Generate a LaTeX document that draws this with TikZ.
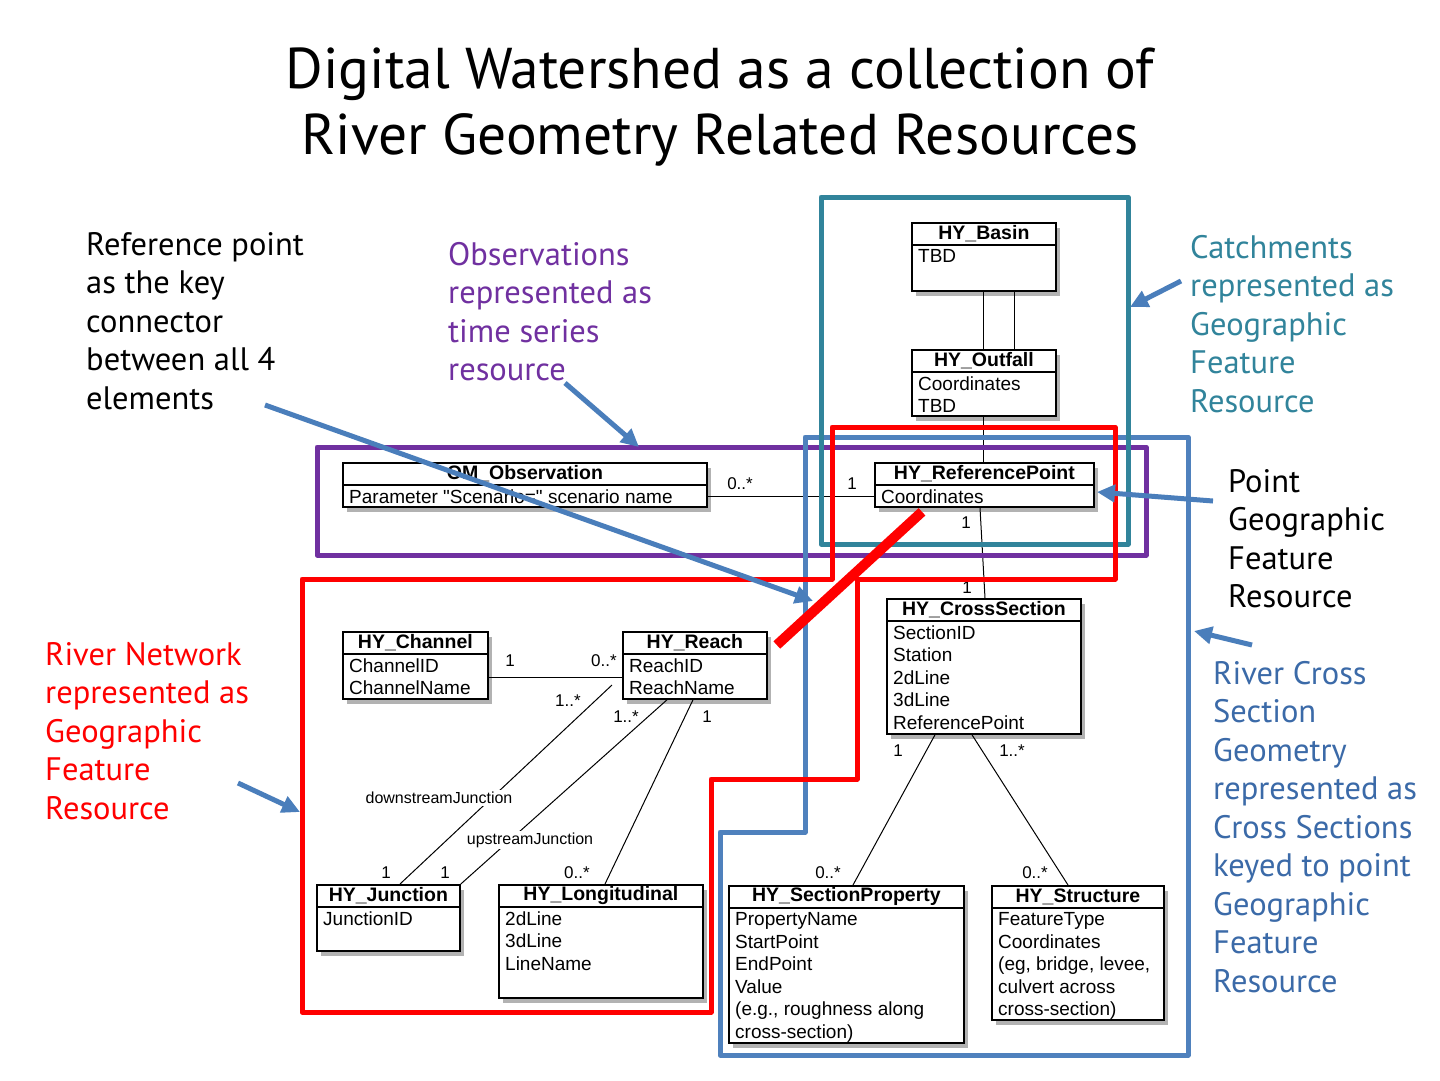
\documentclass[tikz,border=0pt]{standalone}
\usepackage{fontspec}
\setmainfont{Liberation Sans}[Ligatures=TeXOff]
\newfontfamily\annfont{PT Sans}
\usetikzlibrary{calc,arrows.meta,shadows}
\definecolor{tealc}{HTML}{31849B}
\definecolor{purp}{HTML}{7030A0}
\definecolor{redc}{HTML}{FF0000}
\definecolor{bluec}{HTML}{4F81BD}
\definecolor{arrowc}{HTML}{4A7EBB}
\definecolor{bluetext}{HTML}{3B6AA8}
\tikzset{
 umlbox/.style={draw=black, line width=1.8pt, fill=white, inner sep=0pt,
   drop shadow={shadow xshift=4pt, shadow yshift=-5pt, fill=black, opacity=0.3}},
 umlhead/.style={font=\fontsize{19.5}{21}\selectfont\bfseries, inner sep=0pt},
 umlattr/.style={font=\fontsize{19}{22.5}\selectfont, align=left, inner sep=0pt},
 umlsep/.style={line width=1.2pt},
 assoc/.style={line width=1pt},
 mult/.style={font=\fontsize{17}{17}\selectfont, inner sep=0pt},
 role/.style={font=\fontsize{16}{16}\selectfont, fill=white, inner sep=2pt},
 region/.style={line width=5pt, line join=round},
 note/.style={font=\annfont\fontsize{32.5}{38.5}\selectfont, align=left, anchor=north west, inner sep=0pt},
 titletext/.style={font=\annfont\fontsize{57.5}{66}\selectfont, inner sep=0pt, anchor=base},
 callout/.style={draw=arrowc, line width=5pt, -{Triangle[length=18pt,width=17pt]}},
}
% #1 name, #2 x, #3 y, #4 width, #5 height, #6 title, #7 attributes
\newcommand\umlclass[7]{%
  \node[umlbox, minimum width=#4pt, minimum height=#5pt, anchor=north west] (#1) at (#2,#3) {};
  \node[umlhead] (#1-t) at ($(#1.north)+(0,11.5)$) {#6};
  \draw[umlsep] ($(#1.north west)+(0,23)$) -- ($(#1.north east)+(0,23)$);
  \node[umlattr, anchor=north west] (#1-a) at ($(#1.north west)+(7,27.5)$) {#7};
}
\begin{document}
\begin{tikzpicture}[x=1pt,y=-1pt]
\fill[white] (0,0) rectangle (1440,1080);
\useasboundingbox (0,0) rectangle (1440,1080);

% title
\node[titletext] (title1) at (720,88) {Digital Watershed as a collection of};
\node[titletext] (title2) at (720,154) {River Geometry Related Resources};

% classes
\umlclass{basin}{911}{222}{144}{68}{HY\_Basin}{TBD}
\umlclass{outfall}{911}{349}{144}{66}{HY\_Outfall}{Coordinates\\TBD}
\umlclass{refpt}{874}{462}{219}{44}{HY\_ReferencePoint}{Coordinates}
\umlclass{obs}{342}{462}{364}{44}{OM\_Observation}{Parameter "Scenario=" scenario name}
\umlclass{cross}{886}{598}{194}{135}{HY\_CrossSection}{SectionID\\Station\\2dLine\\3dLine\\ReferencePoint}
\umlclass{channel}{342}{631}{145}{67}{HY\_Channel}{ChannelID\\ChannelName}
\umlclass{reach}{622}{631}{144}{67}{HY\_Reach}{ReachID\\ReachName}
\umlclass{junction}{316}{884}{143}{66}{HY\_Junction}{JunctionID}
\umlclass{longit}{498}{884}{204}{113}{HY\_Longitudinal}{2dLine\\3dLine\\LineName}
\umlclass{secprop}{728}{885}{235}{157}{HY\_SectionProperty}{PropertyName\\StartPoint\\EndPoint\\Value\\(e.g., roughness along\\cross-section)}
\umlclass{struct}{991}{885}{172}{134}{HY\_Structure}{FeatureType\\Coordinates\\(eg, bridge, levee,\\culvert across\\cross-section)}

% associations
\draw[assoc] ($(basin.south west)+(72,0)$) -- ($(outfall.north west)+(72,0)$);
\draw[assoc] ($(basin.south west)+(103,0)$) -- ($(outfall.north west)+(103,0)$);
\draw[assoc] ($(outfall.south west)+(72,0)$) -- ($(refpt.north west)+(109,0)$);
\draw[assoc] ($(obs.north east)+(0,34)$) -- ($(refpt.north west)+(0,34)$);
\node[mult] (m1) at (740,484) {0..*};
\node[mult] (m2) at (852,484) {1};
\draw[assoc] ($(refpt.south west)+(106,0)$) -- ($(cross.north west)+(99,0)$);
\node[mult] (m3) at (966,523) {1};
\node[mult] (m4) at (967,588) {1};
\draw[assoc] ($(channel.north east)+(0,46)$) -- ($(reach.north west)+(0,46)$);
\node[mult] (m5) at (510,661) {1};
\node[mult] (m6) at (604,661) {0..*};
\draw[assoc] ($(reach.north west)+(-10,54)$) -- ($(junction.north west)+(84,0)$);
\draw[assoc] ($(reach.south west)+(45,0)$) -- (junction.north east);
\node[role] (r1) at (439,798) {downstreamJunction};
\node[role] (r2) at (530,840) {upstreamJunction};
\draw[assoc] ($(reach.south west)+(71,0)$) -- ($(longit.north west)+(107,0)$);
\node[mult] (m7) at (568,701) {1..*};
\node[mult] (m8) at (626,717) {1..*};
\node[mult] (m9) at (707,717) {1};
\node[mult] (m10) at (386,873) {1};
\node[mult] (m11) at (445,873) {1};
\node[mult] (m12) at (577,873) {0..*};
\draw[assoc] ($(cross.south west)+(49,0)$) -- ($(secprop.north west)+(125,0)$);
\draw[assoc] ($(cross.south west)+(86,0)$) -- ($(struct.north west)+(77,0)$);
\node[mult] (m13) at (898,751) {1};
\node[mult] (m14) at (1012,751) {1..*};
\node[mult] (m15) at (828,873) {0..*};
\node[mult] (m16) at (1035,873) {0..*};

% region outlines
\draw[region, purp] (317,447) rectangle (1146,555);
\draw[region, bluec] (805,437) -- (1188,437) -- (1188,1055) -- (720,1055) -- (720,832) -- (805,832) -- cycle;
\draw[region, tealc] (821,197) rectangle (1128,544);
\draw[region, redc] (302,579) -- (832,579) -- (832,427) -- (1115,427) -- (1115,579) -- (857,579) -- (857,779) -- (711,779) -- (711,1012) -- (302,1012) -- cycle;
\draw[redc, line width=10pt] ($(refpt.south west)+(48,4)$) -- ($(reach.north east)+(9,14)$);

% notes
\node[note] (n1) at (86,232) {Reference point\\as the key\\connector\\between all 4\\elements};
\node[note, text=purp] (n2) at (448,242) {Observations\\represented as\\time series\\resource};
\node[note, text=tealc] (n3) at (1190,235) {Catchments\\represented as\\Geographic\\Feature\\Resource};
\node[note] (n4) at (1228,469) {Point\\Geographic\\Feature\\Resource};
\node[note, text=redc] (n5) at (45,642) {River Network\\represented as\\Geographic\\Feature\\Resource};
\node[note, text=bluetext] (n6) at (1213,661) {River Cross\\Section\\Geometry\\represented as\\Cross Sections\\keyed to point\\Geographic\\Feature\\Resource};

% callout arrows
\coordinate (c1s) at (265,405); \coordinate (c1e) at (813,601);
\coordinate (c2s) at (565,383); \coordinate (c2e) at (639,447);
\coordinate (c3s) at (1181,281); \coordinate (c3e) at (1130,307);
\coordinate (c4s) at (1213,501); \coordinate (c4e) at (1097,492);
\coordinate (c5s) at (1252,645); \coordinate (c5e) at (1194,631);
\coordinate (c6s) at (238,783); \coordinate (c6e) at (300,812);
\draw[callout] (c1s) -- (c1e);
\draw[callout] (c2s) -- (c2e);
\draw[callout] (c3s) -- (c3e);
\draw[callout] (c4s) -- (c4e);
\draw[callout] (c5s) -- (c5e);
\draw[callout] (c6s) -- (c6e);
\end{tikzpicture}
\end{document}
